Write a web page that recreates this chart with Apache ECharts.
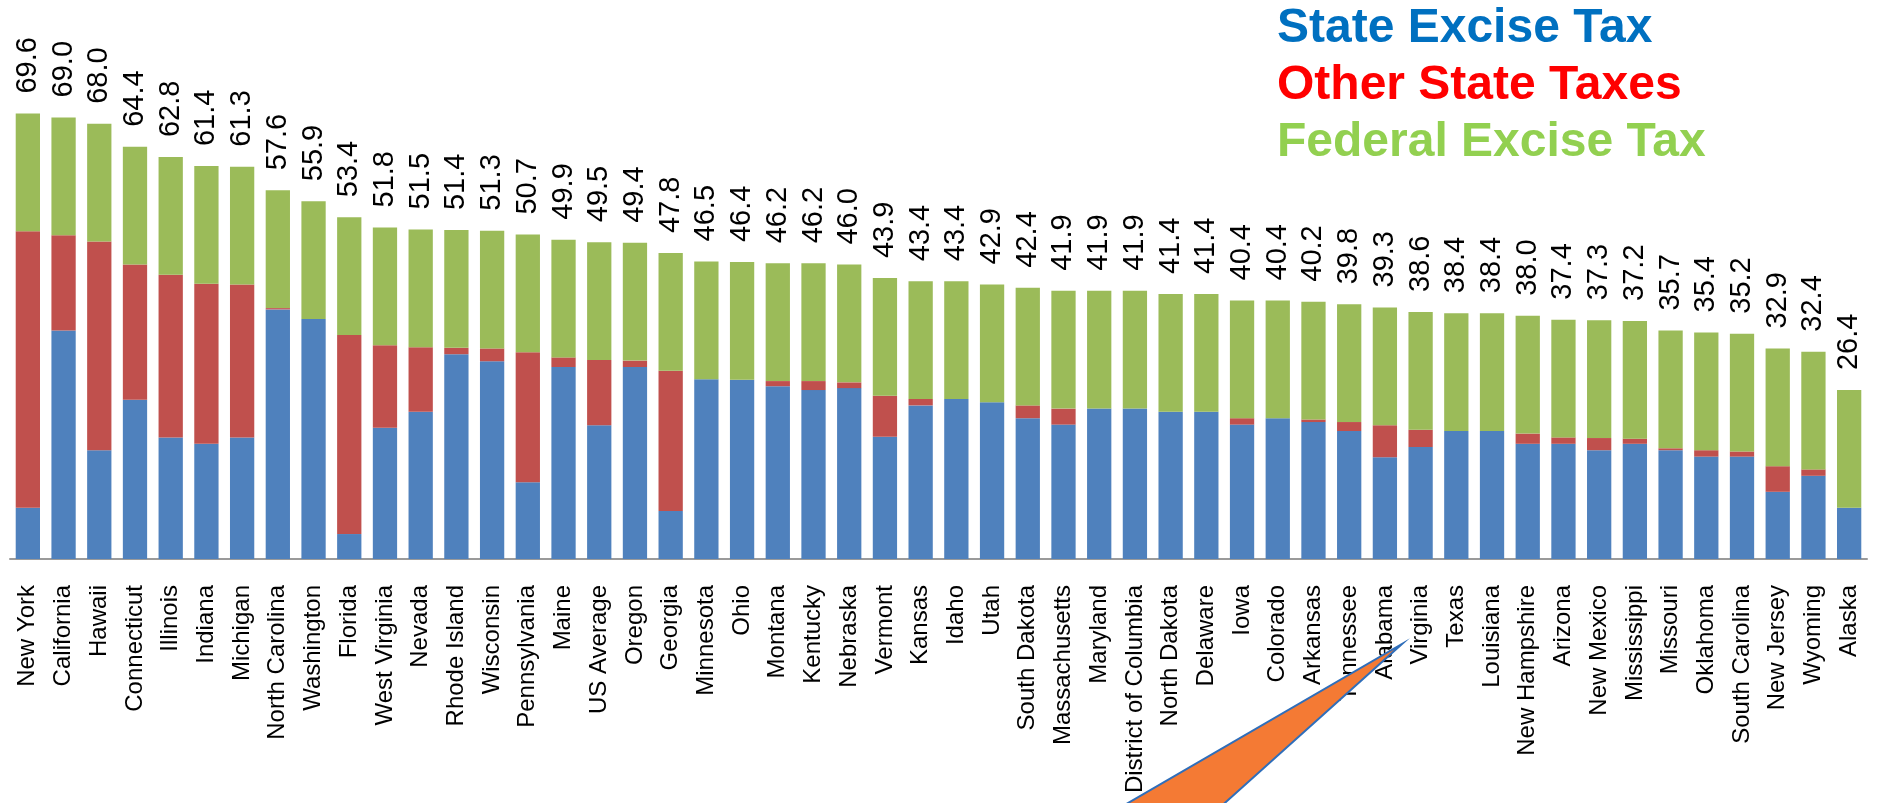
<!DOCTYPE html>
<html>
<head>
<meta charset="utf-8">
<title>Gas taxes by state</title>
<script src="https://cdn.jsdelivr.net/npm/echarts@6/dist/echarts.min.js"></script>
<style>
    html, body { margin: 0; padding: 0; background: #fff; }
    #main { width: 1881px; height: 803px; }
</style>
</head>
<body>
<div id="main"></div>
<script>
/**categories, left to right*/
let states = ['New York', 'California', 'Hawaii', 'Connecticut', 'Illinois', 'Indiana', 'Michigan',
    'North Carolina', 'Washington', 'Florida', 'West Virginia', 'Nevada', 'Rhode Island', 'Wisconsin',
    'Pennsylvania', 'Maine', 'US Average', 'Oregon', 'Georgia', 'Minnesota', 'Ohio', 'Montana',
    'Kentucky', 'Nebraska', 'Vermont', 'Kansas', 'Idaho', 'Utah', 'South Dakota', 'Massachusetts',
    'Maryland', 'District of Columbia', 'North Dakota', 'Delaware', 'Iowa', 'Colorado', 'Arkansas',
    'Tennessee', 'Alabama', 'Virginia', 'Texas', 'Louisiana', 'New Hampshire', 'Arizona', 'New Mexico',
    'Mississippi', 'Missouri', 'Oklahoma', 'South Carolina', 'New Jersey', 'Wyoming', 'Alaska'];

/**cents per gallon*/
let stateExcise = [8.0, 35.7, 17.0, 24.9, 19.0, 18.0, 19.0, 39.0, 37.5, 3.9, 20.5, 23.0, 32.0, 30.9,
    12.0, 30.0, 20.9, 30.0, 7.5, 28.1, 28.0, 27.0, 26.4, 26.7, 19.1, 24.0, 25.0, 24.5, 22.0, 21.0,
    23.5, 23.5, 23.0, 23.0, 21.0, 22.0, 21.4, 20.0, 15.9, 17.5, 20.0, 20.0, 18.0, 18.0, 17.0,
    18.0, 17.0, 16.0, 16.0, 10.5, 13.0, 8.0];
let otherState = [43.2, 14.9, 32.6, 21.1, 25.4, 25.0, 23.9, 0.2, 0, 31.1, 12.9, 10.1, 1.0, 2.0,
    20.3, 1.5, 10.2, 1.0, 21.9, 0, 0, 0.8, 1.4, 0.9, 6.4, 1.0, 0, 0, 2.0, 2.5,
    0, 0, 0, 0, 1.0, 0, 0.4, 1.4, 5.0, 2.7, 0, 0, 1.6, 1.0, 1.9,
    0.8, 0.3, 1.0, 0.8, 4.0, 1.0, 0];
let federal = [18.4, 18.4, 18.4, 18.4, 18.4, 18.4, 18.4, 18.4, 18.4, 18.4, 18.4, 18.4, 18.4, 18.4,
    18.4, 18.4, 18.4, 18.4, 18.4, 18.4, 18.4, 18.4, 18.4, 18.4, 18.4, 18.4, 18.4, 18.4, 18.4, 18.4,
    18.4, 18.4, 18.4, 18.4, 18.4, 18.4, 18.4, 18.4, 18.4, 18.4, 18.4, 18.4, 18.4, 18.4, 18.4,
    18.4, 18.4, 18.4, 18.4, 18.4, 18.4, 18.4];
/**total labels printed above the bars*/
let totals = [69.6, 69.0, 68.0, 64.4, 62.8, 61.4, 61.3, 57.6, 55.9, 53.4, 51.8, 51.5, 51.4, 51.3,
    50.7, 49.9, 49.5, 49.4, 47.8, 46.5, 46.4, 46.2, 46.2, 46.0, 43.9, 43.4, 43.4, 42.9, 42.4, 41.9,
    41.9, 41.9, 41.4, 41.4, 40.4, 40.4, 40.2, 39.8, 39.3, 38.6, 38.4, 38.4, 38.0, 37.4, 37.3,
    37.2, 35.7, 35.4, 35.2, 32.9, 32.4, 26.4];

let chart = echarts.init(document.getElementById('main'));
let font = 'Liberation Sans, Arial, sans-serif';

chart.setOption({
    animation: false,
    backgroundColor: '#fff',
    textStyle: { fontFamily: font },
    legend: {
        orient: 'vertical',
        left: 1272,
        top: 0,
        padding: 0,
        itemGap: 0,
        itemWidth: 0,
        icon: 'none',
        selectedMode: false,
        textStyle: { fontSize: 48, fontWeight: 'bold', lineHeight: 57, fontFamily: font },
        data: [
            { name: 'State Excise Tax', textStyle: { color: '#0070C0' } },
            { name: 'Other State Taxes', textStyle: { color: '#FF0000' } },
            { name: 'Federal Excise Tax', textStyle: { color: '#92D050' } }
        ]
    },
    grid: { left: 10, right: 14, top: 47, height: 512, outerBoundsMode: 'none' },
    xAxis: {
        type: 'category',
        data: states,
        axisTick: { show: false },
        axisLine: { lineStyle: { color: '#9A9A9A', width: 2 } },
        axisLabel: {
            interval: 0,
            rotate: 90,
            margin: 26,
            fontSize: 24,
            color: '#000',
            fontFamily: font
        }
    },
    yAxis: { type: 'value', min: 0, max: 80, show: false },
    series: [
        {
            name: 'State Excise Tax', type: 'bar', stack: 'tax', data: stateExcise,
            barCategoryGap: '32%', itemStyle: { color: '#4F81BD' }
        },
        {
            name: 'Other State Taxes', type: 'bar', stack: 'tax', data: otherState,
            itemStyle: { color: '#C0504D' }
        },
        {
            name: 'Federal Excise Tax', type: 'bar', stack: 'tax', data: federal,
            itemStyle: { color: '#9BBB59' },
            label: {
                show: true,
                position: 'top',
                distance: 20,
                rotate: 90,
                align: 'left',
                verticalAlign: 'middle',
                fontSize: 29,
                color: '#000',
                fontFamily: font,
                formatter: function (p) {
                    return totals[p.dataIndex].toFixed(1);
                }
            }
        }
    ],
    // orange callout arrow at the bottom
    graphic: [{
        type: 'polygon',
        z: 100,
        shape: { points: [[1402, 644], [1217, 810], [1116, 810]] },
        style: { fill: '#F47A34', stroke: '#2F6EBA', lineWidth: 2 }
    }]
});
</script>
</body>
</html>
